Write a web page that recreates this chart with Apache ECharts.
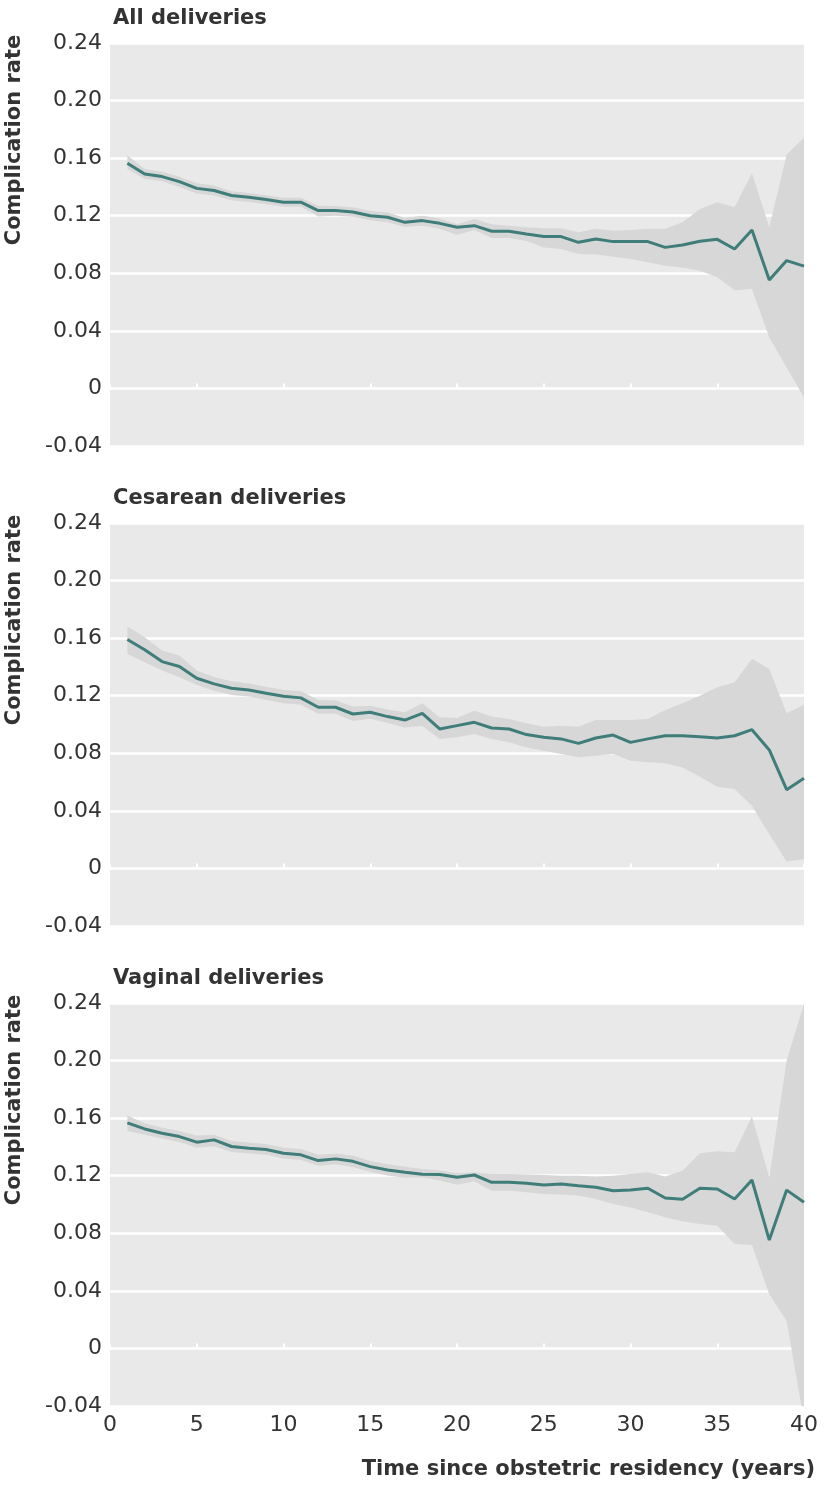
<!DOCTYPE html>
<html><head><meta charset="utf-8">
<script src="https://cdn.jsdelivr.net/npm/echarts@6/dist/echarts.min.js"></script>
<style>html,body{margin:0;padding:0;background:#fff}#c{width:824px;height:1492px}</style>
</head><body><div id="c"></div>
<script>
const years = Array.from({length: 40}, (_, i) => i + 1);
const panelTitles = ['All deliveries', 'Cesarean deliveries', 'Vaginal deliveries'];
const yTicks = [-0.04, 0, 0.04, 0.08, 0.12, 0.16, 0.20, 0.24];
const xTicks = [0, 5, 10, 15, 20, 25, 30, 35, 40];

const allRate = [0.1565,0.149,0.1472,0.1437,0.139,0.1375,0.134,0.1328,0.1312,0.1294,0.1294,0.1236,0.1236,0.1226,0.120,0.1189,0.1154,0.1166,0.1147,0.112,0.1131,0.1092,0.1092,0.1073,0.1055,0.1055,0.1015,0.1038,0.102,0.102,0.102,0.098,0.0997,0.1022,0.1036,0.0969,0.110,0.0753,0.0888,0.085];
const allUpper = [0.162,0.1525,0.1505,0.147,0.1425,0.141,0.137,0.1358,0.1342,0.1325,0.1325,0.127,0.1268,0.1258,0.1232,0.1222,0.1185,0.120,0.118,0.114,0.1178,0.114,0.113,0.112,0.1113,0.1113,0.1085,0.111,0.1096,0.110,0.111,0.111,0.1154,0.1247,0.1294,0.1259,0.1495,0.112,0.1625,0.174];
const allLower = [0.1525,0.1455,0.144,0.140,0.1355,0.134,0.1308,0.1295,0.128,0.1262,0.1262,0.1195,0.120,0.1192,0.1168,0.1155,0.1122,0.113,0.111,0.1066,0.110,0.1045,0.1045,0.1025,0.098,0.0969,0.0934,0.093,0.0915,0.090,0.0876,0.0853,0.0841,0.0817,0.0772,0.0683,0.069,0.0354,0.0145,-0.0063];

const cesRate = [0.159,0.1519,0.1437,0.1403,0.1321,0.1282,0.1252,0.124,0.1217,0.1196,0.1185,0.112,0.112,0.1073,0.1085,0.1055,0.1031,0.1078,0.0969,0.0992,0.1015,0.0976,0.0969,0.093,0.0911,0.090,0.0869,0.0906,0.0927,0.0876,0.090,0.0922,0.0922,0.0915,0.0906,0.0922,0.0964,0.0823,0.0547,0.0626];
const cesUpper = [0.1683,0.1607,0.1514,0.148,0.1375,0.133,0.13,0.1285,0.1262,0.124,0.1232,0.117,0.1168,0.1125,0.113,0.1105,0.1085,0.1147,0.105,0.1045,0.1096,0.1055,0.1038,0.1008,0.0985,0.0992,0.0985,0.1031,0.1031,0.1031,0.1038,0.110,0.1147,0.120,0.1259,0.1294,0.1456,0.1386,0.1078,0.1138];
const cesLower = [0.149,0.1433,0.1375,0.1328,0.1275,0.1235,0.1205,0.1195,0.117,0.1147,0.1138,0.1075,0.1075,0.1025,0.104,0.101,0.098,0.099,0.090,0.0911,0.0934,0.090,0.0876,0.0841,0.0818,0.0795,0.0772,0.0783,0.0795,0.0748,0.0737,0.073,0.0702,0.0637,0.0567,0.0551,0.0435,0.0238,0.0048,0.0064];

const vagRate = [0.1567,0.1525,0.1495,0.1472,0.1433,0.1449,0.1403,0.1391,0.1382,0.1356,0.1345,0.1305,0.1317,0.130,0.1263,0.124,0.1224,0.121,0.1208,0.1189,0.1205,0.1154,0.1154,0.1147,0.1136,0.1143,0.1131,0.112,0.1096,0.110,0.1113,0.1045,0.1036,0.1113,0.1108,0.1038,0.117,0.0753,0.110,0.1015];
const vagUpper = [0.1618,0.1565,0.1533,0.151,0.148,0.1485,0.1442,0.143,0.142,0.1395,0.1385,0.1345,0.1355,0.134,0.1302,0.128,0.1262,0.1247,0.1236,0.1217,0.1224,0.1212,0.1212,0.1208,0.1205,0.120,0.120,0.1194,0.120,0.1212,0.1224,0.1194,0.1236,0.1356,0.137,0.1363,0.1611,0.1189,0.200,0.2395];
const vagLower = [0.151,0.1485,0.1458,0.1435,0.1395,0.1405,0.1365,0.1355,0.1345,0.132,0.131,0.127,0.128,0.126,0.1225,0.1202,0.1185,0.1189,0.1166,0.1138,0.1161,0.1096,0.1096,0.1085,0.1073,0.1069,0.1062,0.1038,0.1004,0.098,0.0946,0.0911,0.0883,0.0864,0.0853,0.0725,0.0718,0.0377,0.0191,-0.0505];

const panels = [
  {rate: allRate, upper: allUpper, lower: allLower},
  {rate: cesRate, upper: cesUpper, lower: cesLower},
  {rate: vagRate, upper: vagUpper, lower: vagLower}
];

const tops = [43, 523, 1003];
const H = 403;
const TXT = '#333333';
const NUMFONT = 'DejaVu Sans';
const BOLDFONT = 'DejaVu Sans';
const LINE = '#3f7d7a';
const BAND = '#d7d7d7';
const BG = '#e9e9e9';

const grids = [], xAxes = [], yAxes = [], series = [], titles = [], graphics = [];
panels.forEach((p, i) => {
  grids.push({left: 110, width: 694, top: tops[i], height: H, show: true, backgroundColor: BG, borderWidth: 0, containLabel: false});
  xAxes.push({type: 'value', gridIndex: i, min: xTicks[0], max: xTicks[xTicks.length-1], interval: 5,
    axisLine: {show: false}, splitLine: {show: false},
    axisTick: {show: true, inside: true, length: 5, lineStyle: {color: '#ffffff', width: 2}},
    axisLabel: {show: i === 2, color: TXT, fontFamily: NUMFONT, fontWeight: 'normal', fontSize: 22, margin: 8, showMinLabel: true, showMaxLabel: true}});
  yAxes.push({type: 'value', gridIndex: i, min: yTicks[0], max: yTicks[yTicks.length-1], interval: 0.04,
    axisLine: {show: false}, axisTick: {show: false},
    splitLine: {show: true, lineStyle: {color: '#ffffff', width: 2.5}},
    axisLabel: {color: TXT, fontFamily: NUMFONT, fontWeight: 'normal', fontSize: 22, margin: 8,
      formatter: v => { const r = Math.round(v * 100) / 100; return r === 0 ? '0' : r.toFixed(2); }}});
  const band = years.map((y, k) => [y, p.lower[k], p.upper[k]]);
  series.push({type: 'custom', xAxisIndex: i, yAxisIndex: i, data: band, silent: true, clip: true, z: 1,
    encode: {x: 0, y: [1, 2]},
    renderItem: (params, api) => {
      if (params.dataIndex !== 0) return null;
      const pts = [];
      band.forEach(d => pts.push(api.coord([d[0], d[2]])));
      for (let k = band.length - 1; k >= 0; k--) pts.push(api.coord([band[k][0], band[k][1]]));
      return {type: 'polygon', shape: {points: pts}, style: {fill: BAND}};
    }});
  series.push({type: 'line', xAxisIndex: i, yAxisIndex: i, data: years.map((y, k) => [y, p.rate[k]]),
    symbol: 'none', lineStyle: {color: LINE, width: 3}, z: 3});
  titles.push({text: panelTitles[i], left: 108, top: tops[i] - 40,
    textStyle: {color: TXT, fontFamily: BOLDFONT, fontWeight: 'bold', fontSize: 21}});
  graphics.push({type: 'text', x: 15, y: tops[i] + 97, rotation: Math.PI / 2,
    style: {text: 'Complication rate', fill: TXT, font: 'bold 21px "DejaVu Sans"', textAlign: 'center', textVerticalAlign: 'middle'}});
});
graphics.push({type: 'text', right: 9, top: 1459,
  style: {text: 'Time since obstetric residency (years)', fill: TXT, font: 'bold 21px "DejaVu Sans"'}});

const chart = echarts.init(document.getElementById('c'), null, {renderer: 'canvas'});
chart.setOption({animation: false, title: titles, grid: grids, xAxis: xAxes, yAxis: yAxes, series: series, graphic: graphics});
</script></body></html>
